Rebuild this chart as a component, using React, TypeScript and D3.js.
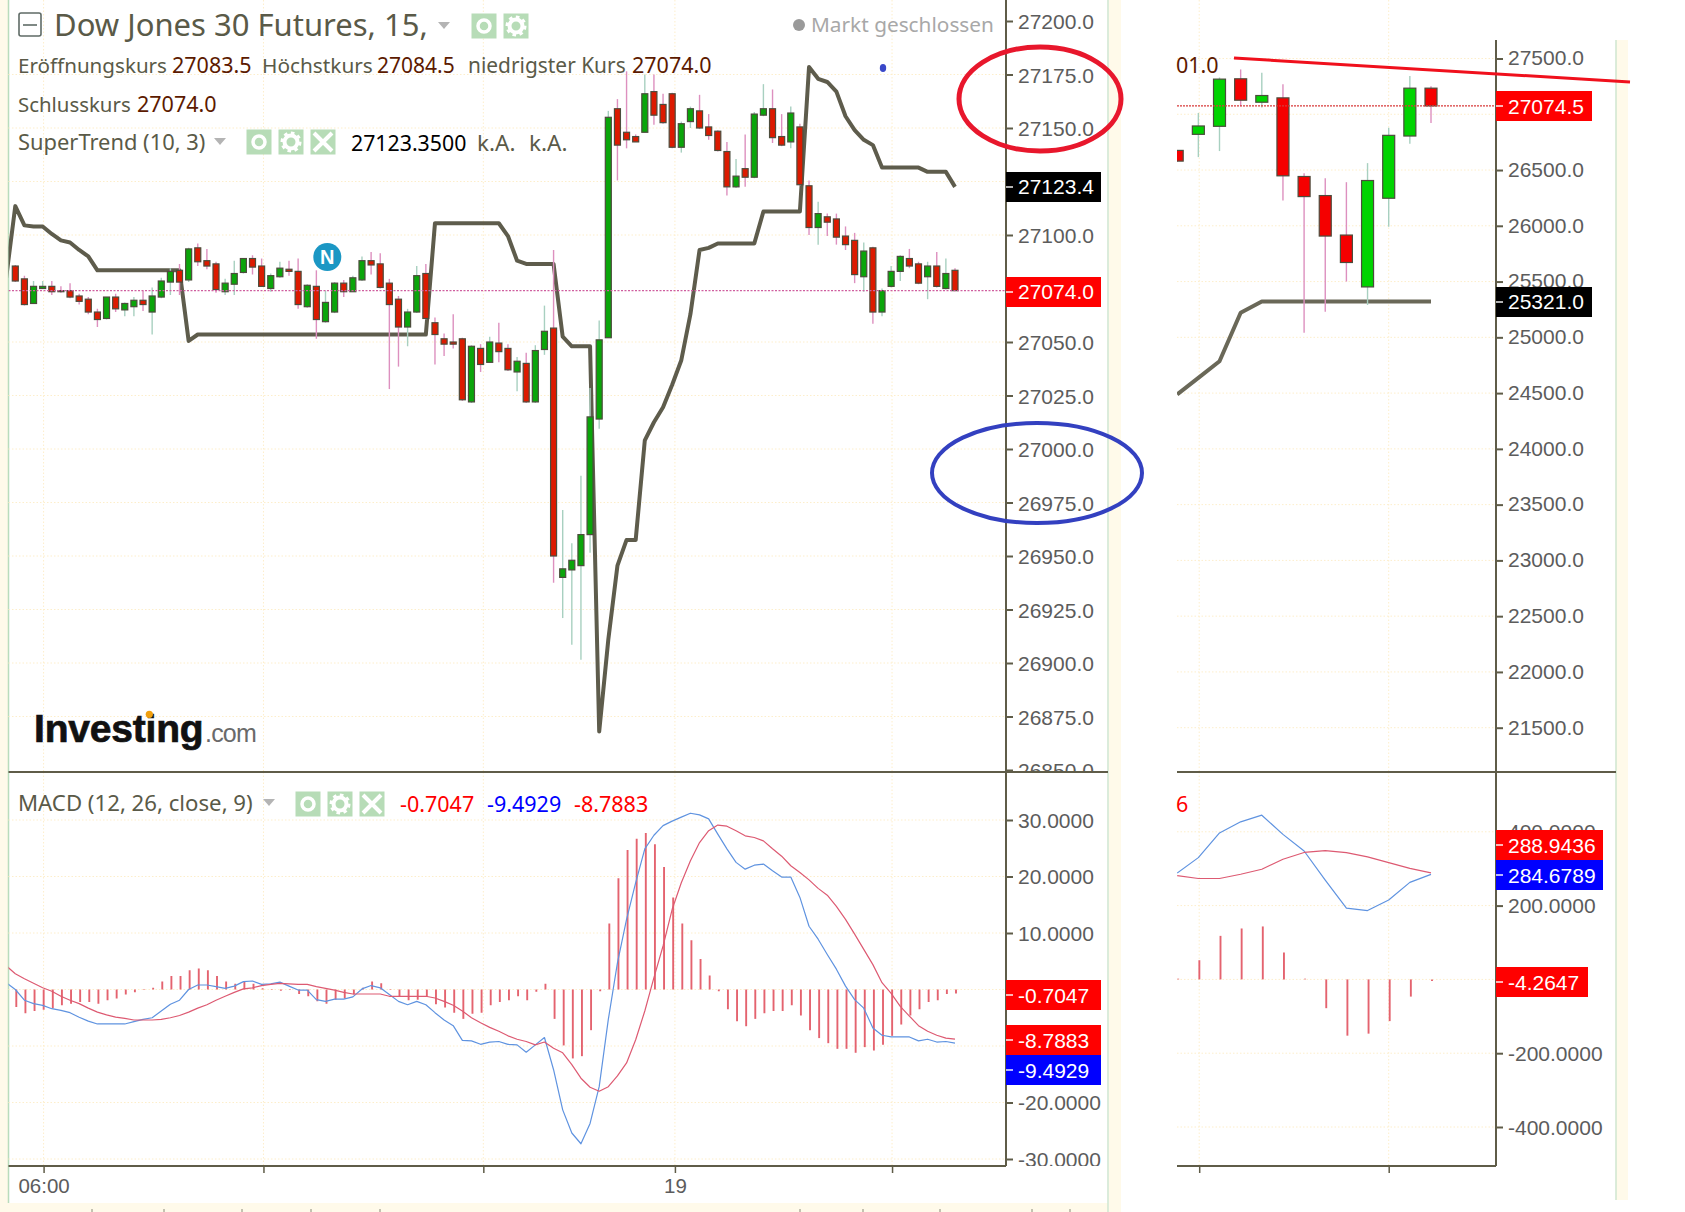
import React, { useEffect, useRef } from 'react'
import * as d3 from 'd3'

// main pane, 15 min candles
const opens = [
  27085.5, 27079.5, 27068, 27075, 27076, 27074, 27074, 27071.5, 27070, 27064,
  27061, 27071, 27065, 27066.5, 27069.5, 27064, 27071, 27078, 27083.5, 27079,
  27094, 27088, 27086.5, 27073.5, 27077, 27082.5, 27089, 27085.5, 27075, 27080.5,
  27084, 27083, 27066.5, 27076, 27059.5, 27064, 27077.5, 27073.5, 27079, 27088,
  27086.5, 27077.5, 27070, 27057, 27064, 27082, 27059, 27051.5, 27050, 27051.5,
  27022, 27047, 27040.5, 27049.5, 27047, 27036, 27040, 27022, 27046.5, 27056.5,
  26940, 26943.5, 26945.5, 26960, 27014, 27052, 27159, 27148, 27146, 27148,
  27167, 27161, 27166, 27141, 27153, 27158, 27150.5, 27148.5, 27139, 27122.5,
  27131, 27127, 27156, 27159, 27146, 27143.5, 27150.5, 27123, 27103.5, 27108.5,
  27107.5, 27099.5, 27097.5, 27080.5, 27094, 27064, 27076, 27083, 27089, 27086.5,
  27080.5, 27085.5, 27075, 27083.5,
]
const highs = [
  27086, 27081, 27078.5, 27078.5, 27078.5, 27076, 27077.5, 27072.5, 27071, 27065.5,
  27071, 27072.5, 27068.5, 27071, 27074, 27075.5, 27080, 27084.5, 27086.5, 27094,
  27096, 27093.5, 27087.5, 27079.5, 27088, 27089, 27090.5, 27089, 27082, 27087.5,
  27088, 27089, 27077, 27083.5, 27074, 27078, 27079, 27081, 27090, 27092,
  27091.5, 27079.5, 27071.5, 27065.5, 27085.5, 27086.5, 27061.5, 27054, 27063, 27052,
  27048.5, 27049, 27052.5, 27059, 27049, 27043, 27045, 27048.5, 27067, 27093,
  26971.5, 26956, 26987.5, 27028.5, 27060, 27158, 27163.5, 27176.5, 27147, 27175,
  27175, 27166, 27166.5, 27153, 27160, 27165.5, 27156.5, 27149, 27143.5, 27135.5,
  27147, 27157.5, 27170.5, 27168, 27156.5, 27160, 27152, 27125.5, 27115.5, 27110,
  27110, 27104, 27101, 27096.5, 27094.5, 27075, 27085.5, 27090.5, 27093.5, 27087.5,
  27087.5, 27092, 27089, 27084.5,
]
const lows = [
  27078, 27067, 27068, 27075, 27072, 27073, 27070.5, 27067.5, 27063, 27057,
  27060.5, 27064, 27062, 27062, 27064.5, 27053.5, 27070.5, 27072, 27072, 27078,
  27085.5, 27084, 27073, 27072, 27072, 27082, 27081.5, 27076, 27073.5, 27080,
  27081, 27065.5, 27066, 27051.5, 27059, 27063.5, 27071, 27073.5, 27078.5, 27081.5,
  27075, 27028, 27038.5, 27048, 27063.5, 27060.5, 27039.5, 27043.5, 27047, 27022.5,
  27021.5, 27036, 27040.5, 27040.5, 27036.5, 27027, 27021.5, 27021.5, 27044, 26937.5,
  26921, 26908.5, 26901.5, 26951.5, 27009.5, 27052, 27125.5, 27140.5, 27143.5, 27148,
  27151.5, 27152, 27140.5, 27138.5, 27150, 27149.5, 27144.5, 27139, 27118.5, 27122,
  27122.5, 27126.5, 27155.5, 27143, 27141.5, 27140.5, 27123, 27100, 27095.5, 27099.5,
  27095.5, 27093, 27077.5, 27073.5, 27058.5, 27062, 27075.5, 27078.5, 27084.5, 27077,
  27070, 27075.5, 27074.5, 27074,
]
const closes = [
  27078.5, 27067.5, 27076, 27076, 27073.5, 27073.5, 27071, 27069, 27064, 27060.5,
  27071, 27065.5, 27068, 27069.5, 27067.5, 27071.5, 27078.5, 27083, 27078, 27093.5,
  27087.5, 27085.5, 27074.5, 27077.5, 27082, 27089, 27085, 27076, 27081, 27084.5,
  27083, 27067.5, 27076.5, 27060.5, 27068.5, 27077.5, 27073.5, 27080, 27088, 27086,
  27075.5, 27067.5, 27057, 27064, 27081, 27061, 27053.5, 27049, 27049, 27023,
  27048, 27039.5, 27050, 27045.5, 27037, 27041, 27022, 27046, 27055, 26950,
  26944, 26948, 26960, 27015, 27051, 27155, 27142, 27144.5, 27143.5, 27166,
  27156, 27152.5, 27141, 27152, 27159, 27150, 27146.5, 27139.5, 27122.5, 27127.5,
  27127, 27156.5, 27159, 27145.5, 27142, 27157, 27123.5, 27103.5, 27110, 27106,
  27099, 27095.5, 27081.5, 27092.5, 27064, 27074, 27083, 27090, 27085.5, 27077.5,
  27085.5, 27076, 27082, 27074,
]
// starts one bar before the first candle
const superTrend = [
  27080, 27113.5, 27104.5, 27104, 27104, 27100.5, 27097.5, 27096.5, 27093, 27090, 27083.5,
  27083.5, 27083.5, 27083.5, 27083.5, 27083.5, 27083.5, 27083.5, 27083.5, 27083.5, 27050.5,
  27053.5, 27053.5, 27053.5, 27053.5, 27053.5, 27053.5, 27053.5, 27053.5, 27053.5, 27053.5,
  27053.5, 27053.5, 27053.5, 27053.5, 27053.5, 27053.5, 27053.5, 27053.5, 27053.5, 27053.5,
  27053.5, 27053.5, 27053.5, 27053.5, 27053.5, 27053.5, 27105.5, 27105.5, 27105.5, 27105.5,
  27105.5, 27105.5, 27105.5, 27105.5, 27099.5, 27088, 27086.5, 27086.5, 27086.5, 27086.5,
  27052.5, 27048, 27048, 27048, 26868, 26911, 26945.5, 26957.5, 26957.5, 27004,
  27012.5, 27019.5, 27030, 27041.5, 27063, 27093, 27094, 27096, 27096, 27096,
  27096, 27096, 27111, 27111, 27111, 27111, 27111, 27178.5, 27173, 27171.5,
  27167, 27155.5, 27149, 27144.5, 27142, 27131.5, 27131.5, 27131.5, 27131.5, 27131.5,
  27129.5, 27129.5, 27129.5, 27122.5,
]
const priceTicks = [27200, 27175, 27150, 27100, 27050, 27025, 27000, 26975, 26950, 26925, 26900, 26875, 26850]
const priceGrid = [27175, 27150, 27125, 27100, 27050, 27025, 27000, 26975, 26950, 26925, 26900, 26875]

// main MACD pane
const macdHist = [
  -3.1, -4.2, -3.8, -3.6, -3.3, -2.8, -2.5, -2.2, -2.2, -2.5,
  -1.9, -1.6, -0.9, -0.5, 0.1, 0.3, 1.4, 2.4, 2.4, 3.4,
  3.7, 3.4, 2.4, 1.4, 1, 1.4, 1, 0.2, -0.1, -0.2,
  -0.1, -0.8, -1.2, -2.1, -2.5, -1.8, -1.6, -0.9, 0.3, 1.4,
  1.1, 0.1, -1.2, -1.9, -1.8, -1.3, -2.6, -3.2, -4.1, -5.2,
  -4.3, -4.1, -2.8, -2.2, -1.9, -1.2, -1.9, -0.4, 1, -5.2,
  -9.9, -12.2, -11.8, -7.2, -0.3, 11.7, 19.7, 24.7, 26.7, 27.7,
  25.7, 21.7, 16.3, 11.7, 8.7, 5.4, 2.5, -0.3, -3.5, -5.6,
  -6.5, -5.2, -4.2, -3.8, -3.8, -2.8, -4.6, -7.2, -8.6, -9.5,
  -10.5, -10.5, -11.2, -10.2, -10.8, -9.8, -8.2, -6.2, -4.6, -3.5,
  -2.2, -1.9, -0.8, -0.7,
]
const macdLine = [
  1.2, 0, -1.9, -2.5, -2.8, -3.4, -3.7, -4.1, -4.9, -5.6,
  -6.1, -6.1, -6.1, -6.1, -5.7, -5.3, -5, -3.8, -2.6, -1.9,
  0, 0.8, 0.8, 0.5, 0.2, 0.6, 1.4, 1.5, 0.9, 1,
  1.3, 0.6, -0.1, -0.1, -1.8, -2.1, -1.7, -1.7, -1.3, 0.1,
  0.7, 0.3, -0.9, -2.1, -2.7, -2.1, -2.7, -4.1, -5.4, -6.4,
  -9, -9.1, -9.7, -9.3, -9.2, -9.7, -9.8, -11.1, -9.8, -8.5,
  -14.2, -21.3, -25.4, -27.3, -23.7, -17.2, -5.3, 4.7, 12.4, 18.9,
  24.9, 27.3, 29, 29.8, 30.5, 31.2, 30.9, 30.2, 27.5, 24.9,
  22.5, 21.3, 22, 22.2, 21, 19.9, 19.9, 16.3, 11.2, 8.9,
  6.2, 3.6, 0.6, -1.8, -3.3, -6.8, -8.1, -8.4, -8.4, -8.4,
  -9.1, -8.8, -9.3, -9.2, -9.5,
]
const signalLine = [
  4.2, 2.8, 1.9, 1.1, 0.3, -0.3, -1.2, -1.9, -2.5, -3.3,
  -4, -4.5, -4.9, -5.1, -5.4, -5.4, -5.4, -5.3, -5, -4.6,
  -4, -3.3, -2.7, -1.9, -1.2, -0.5, 0.1, 0.3, 0.7, 0.9,
  1.1, 1, 0.9, 0.9, 0.5, 0.2, -0.1, -0.5, -0.8, -0.8,
  -0.8, -0.8, -1.2, -1.2, -1.2, -1.2, -1.2, -1.5, -2.1, -2.8,
  -3.8, -5, -5.9, -6.7, -7.4, -8.2, -8.8, -9.2, -9.8, -9.3,
  -10.4, -11.2, -13.3, -15.7, -17.3, -18, -17.2, -15.3, -13, -8.9,
  -3.8, 2.1, 7.7, 14.2, 18.9, 22.8, 26, 28.1, 29.1, 28.9,
  28.1, 27.2, 26.9, 26.3, 24.9, 23.6, 21.9, 20.7, 19.4, 17.9,
  16.7, 14.7, 12.4, 9.8, 7.1, 4.4, 1.2, -0.7, -3, -4.7,
  -6.4, -7.4, -8.1, -8.6, -8.8,
]
const macdTicks = [30, 20, 10, -10, -20, -30]
const macdGrid = [30, 20, 10, 0, -10, -20, -30]

const timeTicks = [3.1, 27.2, 51.3, 72.3, 96.1]
const timeLabels = ['06:00', '', '', '19', '']

// right chart, second instrument snapshot, first bar is cut by the left edge
const rOpens = [26676, 26820, 26892, 27318, 27108, 27147, 26442, 26271, 25917, 25452, 26247, 26805, 27234]
const rHighs = [26680, 27012, 27330, 27402, 27372, 27270, 26472, 26427, 26391, 26562, 26880, 27342, 27252]
const rLows = [26575, 26616, 26670, 27072, 27060, 26226, 25041, 25230, 25500, 25290, 25992, 26736, 26922]
const rCloses = [26580, 26895, 27315, 27126, 27168, 26448, 26262, 25908, 25671, 26406, 26811, 27234, 27075]
const rSuperTrend = [24488, 24636, 24786, 25221, 25321, 25321, 25321, 25321, 25321, 25321, 25321, 25321, 25321]
const rPriceTicks = [27500, 26500, 26000, 25500, 25000, 24500, 24000, 23500, 23000, 22500, 22000, 21500]
const rPriceGrid = [27500, 27000, 26500, 26000, 25500, 25000, 24500, 24000, 23500, 23000, 22500, 22000, 21500]
const rHist = [2, 52, 118, 138, 143.5, 72.6, 2, -78, -152.5, -147, -113, -46.6, -4.2647]
const rMacd = [288, 330, 397, 427, 445, 393, 348, 269, 193, 186.5, 215, 263, 284.7]
const rSignal = [281, 273.5, 273.5, 285, 298.5, 325.5, 344, 349, 343.5, 332, 316.6, 301, 288.9]
const rMacdTicks = [400, 200, -200, -400]
const rMacdGrid = [400, 200, 0, -200, -400]
const rTimeTicks = [1.04, 10]
// stray tick stubs along the bottom edge of the screenshot
const edgeTicks = [92, 164, 242, 311, 380, 800, 863, 940, 1032, 1070]

const AXIS_FONT = '"Liberation Sans", Arial, sans-serif'
const HEAD_FONT = '"Noto Sans", sans-serif'
const AXIS_COLOR = '#5f5c48'
const TEXT_COLOR = '#5a5a48'
const VALUE_COLOR = '#5c1a00'

type G = d3.Selection<SVGGElement, unknown, null, undefined>

const drawCandles = (
  g: G,
  x: d3.ScaleLinear<number, number>,
  y: d3.ScaleLinear<number, number>,
  o: number[],
  h: number[],
  l: number[],
  c: number[],
  bodyWidth: number,
  up: string,
  down: string,
  wickUp: string,
  wickDown: string,
  border: string,
) => {
  const data = o.map((_, i) => i)
  g.append('g')
    .selectAll('line')
    .data(data)
    .enter()
    .append('line')
    .attr('x1', (i) => x(i))
    .attr('x2', (i) => x(i))
    .attr('y1', (i) => y(h[i]))
    .attr('y2', (i) => y(l[i]))
    .attr('stroke', (i) => (c[i] >= o[i] ? wickUp : wickDown))
    .attr('stroke-width', 1.4)
  g.append('g')
    .selectAll('rect')
    .data(data)
    .enter()
    .append('rect')
    .attr('x', (i) => x(i) - bodyWidth / 2)
    .attr('width', bodyWidth)
    .attr('y', (i) => y(Math.max(o[i], c[i])))
    .attr('height', (i) => Math.max(1, Math.abs(y(o[i]) - y(c[i]))))
    .attr('fill', (i) => (c[i] >= o[i] ? up : down))
    .attr('stroke', border)
    .attr('stroke-width', 1.2)
}

const drawLine = (
  g: G,
  x: (i: number) => number,
  y: d3.ScaleLinear<number, number>,
  values: number[],
  color: string,
  width: number,
) => {
  const line = d3
    .line<number>()
    .x((_, i) => x(i))
    .y((d) => y(d))
  g.append('path')
    .attr('d', line(values))
    .attr('fill', 'none')
    .attr('stroke', color)
    .attr('stroke-width', width)
    .attr('stroke-linejoin', 'round')
}

const drawGrid = (g: G, x1: number, x2: number, y1: number, y2: number, ys: number[], xs: number[]) => {
  const color = '#fdeecb'
  ys.forEach((v) => {
    g.append('line')
      .attr('x1', x1)
      .attr('x2', x2)
      .attr('y1', v)
      .attr('y2', v)
      .attr('stroke', color)
      .attr('stroke-width', 1)
      .attr('stroke-dasharray', '1.5 2')
  })
  xs.forEach((v) => {
    g.append('line')
      .attr('x1', v)
      .attr('x2', v)
      .attr('y1', y1)
      .attr('y2', y2)
      .attr('stroke', color)
      .attr('stroke-width', 1)
      .attr('stroke-dasharray', '1.5 2')
  })
}

const drawAxis = (
  g: G,
  y: d3.ScaleLinear<number, number>,
  ticks: number[],
  left: number,
  digits: number,
  dy = '0.38em',
) => {
  const axis = d3
    .axisRight(y)
    .tickValues(ticks)
    .tickSize(7)
    .tickPadding(5)
    .tickFormat((d) => (d as number).toFixed(digits))
  const a = g.append('g').attr('transform', `translate(${left},0)`).call(axis)
  a.select('.domain').remove()
  a.selectAll('line').attr('stroke', AXIS_COLOR).attr('stroke-width', 2)
  a.selectAll('text')
    .attr('fill', '#5c5c5c')
    .attr('dy', dy)
    .style('font-family', AXIS_FONT)
    .style('font-size', '21px')
}

const priceTag = (
  g: G,
  left: number,
  width: number,
  top: number,
  text: string,
  fill: string,
  textLift = 0,
) => {
  g.append('rect')
    .attr('x', left)
    .attr('y', top)
    .attr('width', width)
    .attr('height', 30)
    .attr('fill', fill)
  g.append('line')
    .attr('x1', left)
    .attr('x2', left + 7)
    .attr('y1', top + 15)
    .attr('y2', top + 15)
    .attr('stroke', '#ffffff')
    .attr('stroke-opacity', 0.7)
    .attr('stroke-width', 2)
  g.append('text')
    .attr('x', left + 12)
    .attr('y', top + 22.5 - textLift)
    .attr('fill', '#ffffff')
    .style('font-family', AXIS_FONT)
    .style('font-size', '21px')
    .text(text)
}

const label = (
  g: G,
  x: number,
  y: number,
  text: string,
  color: string,
  size = 21.5,
  family = HEAD_FONT,
) =>
  g
    .append('text')
    .attr('x', x)
    .attr('y', y)
    .attr('fill', color)
    .style('font-family', family)
    .style('font-size', `${size}px`)
    .text(text)

const icon = (g: G, cx: number, cy: number, kind: string, size = 25) => {
  const s = g.append('g').attr('transform', `translate(${cx},${cy})`)
  s.append('rect')
    .attr('x', -size / 2)
    .attr('y', -size / 2)
    .attr('width', size)
    .attr('height', size)
    .attr('fill', '#b7dcb7')
  if (kind === 'eye') {
    s.append('circle').attr('r', 6).attr('fill', 'none').attr('stroke', '#fff').attr('stroke-width', 3.5)
  } else if (kind === 'gear') {
    s.append('circle').attr('r', 6.5).attr('fill', 'none').attr('stroke', '#fff').attr('stroke-width', 4)
    s.append('circle')
      .attr('r', 9)
      .attr('fill', 'none')
      .attr('stroke', '#fff')
      .attr('stroke-width', 3)
      .attr('stroke-dasharray', '3.5 3.5')
  } else {
    s.append('path')
      .attr('d', 'M-9,-9L9,9M9,-9L-9,9')
      .attr('stroke', '#fff')
      .attr('stroke-width', 4)
  }
}

const arrow = (g: G, cx: number, cy: number) => {
  g.append('path')
    .attr('d', `M${cx - 6},${cy - 3}L${cx + 6},${cy - 3}L${cx},${cy + 4}Z`)
    .attr('fill', '#b4b4b4')
}

const App = () => {
  const svgRef = useRef<SVGSVGElement>(null)

  useEffect(() => {
    const svg = d3.select(svgRef.current)
    svg.selectAll('*').remove()
    const root = svg.append('g') as unknown as G

    // pane geometry
    const L = 8.5
    const AX = 1006
    const SEP = 772
    const BOT = 1166
    const EDGE = 1108
    const RL = 1177
    const RAX = 1496
    const REDGE = 1616

    const defs = svg.append('defs')
    const clip = (id: string, x: number, y: number, w: number, h: number) =>
      defs.append('clipPath').attr('id', id).append('rect').attr('x', x).attr('y', y).attr('width', w).attr('height', h)
    clip('main-top', L, 0, AX - L, SEP)
    clip('main-bot', L, SEP, AX - L, BOT - SEP)
    clip('main-top-ax', AX, 0, EDGE - AX, SEP)
    clip('main-bot-ax', AX, SEP, EDGE - AX, BOT - SEP)
    clip('r-top', RL, 0, RAX - RL, SEP)
    clip('r-bot', RL, SEP, RAX - RL, BOT - SEP)

    // scanned page edge strips
    const strip = '#fffaea'
    root.append('rect').attr('x', 0).attr('y', 0).attr('width', L).attr('height', 1212).attr('fill', strip)
    root.append('rect').attr('x', EDGE + 1).attr('y', 0).attr('width', 12).attr('height', 1212).attr('fill', strip)
    root.append('rect').attr('x', 0).attr('y', 1203).attr('width', EDGE).attr('height', 9).attr('fill', strip)
    root.append('rect').attr('x', REDGE).attr('y', 40).attr('width', 12).attr('height', 1160).attr('fill', strip)
    root.append('line').attr('x1', L).attr('x2', L).attr('y1', 0).attr('y2', 1203).attr('stroke', '#b9dcbc').attr('stroke-width', 1.5)
    root.append('line').attr('x1', EDGE).attr('x2', EDGE).attr('y1', 0).attr('y2', 1212).attr('stroke', '#cfe6cf').attr('stroke-width', 1.5)
    root.append('line').attr('x1', REDGE).attr('x2', REDGE).attr('y1', 40).attr('y2', 1200).attr('stroke', '#cfe6cf').attr('stroke-width', 1.5)
    edgeTicks.forEach((d) => {
      root.append('line').attr('x1', d).attr('x2', d).attr('y1', 1209).attr('y2', 1212).attr('stroke', '#8a8a78').attr('stroke-width', 1)
    })

    // scales
    const x = d3.scaleLinear().domain([0, 103]).range([15.3, 955])
    const y = d3.scaleLinear().domain([27100, 26875]).range([235, 716.5])
    const yM = d3.scaleLinear().domain([30, -30]).range([820, 1159])
    const rx = d3.scaleLinear().domain([0, 12]).range([1177.2, 1431])
    const ry = d3.scaleLinear().domain([27500, 21500]).range([58.5, 727.7])
    const ryM = d3.scaleLinear().domain([400, -400]).range([831.8, 1127])

    // grid
    const gridMain = root.append('g')
    drawGrid(gridMain, L, AX, 0, SEP, priceGrid.map((d) => y(d)), timeTicks.map((d) => x(d)))
    drawGrid(gridMain, L, AX, SEP, BOT, macdGrid.map((d) => yM(d)), timeTicks.map((d) => x(d)))
    drawGrid(gridMain, RL, RAX, 0, SEP, rPriceGrid.map((d) => ry(d)), rTimeTicks.map((d) => rx(d)))
    drawGrid(gridMain, RL, RAX, SEP, BOT, rMacdGrid.map((d) => ryM(d)), rTimeTicks.map((d) => rx(d)))

    // main price pane
    const top = root.append('g').attr('clip-path', 'url(#main-top)') as unknown as G
    drawLine(top, (i) => x(i - 1), y, superTrend, '#5e5c4c', 4)
    drawCandles(top, x, y, opens, highs, lows, closes, 6, '#0aa50a', '#dc1a00', '#a8d0c0', '#dd90bf', '#4c4c3c')
    top.append('line')
      .attr('x1', L)
      .attr('x2', AX)
      .attr('y1', y(27074))
      .attr('y2', y(27074))
      .attr('stroke', '#cf5f9f')
      .attr('stroke-width', 1.4)
      .attr('stroke-dasharray', '2 1.5')

    // main MACD pane
    const bot = root.append('g').attr('clip-path', 'url(#main-bot)') as unknown as G
    bot.append('g')
      .selectAll('line')
      .data(macdHist)
      .enter()
      .append('line')
      .attr('x1', (_, i) => x(i) + 1)
      .attr('x2', (_, i) => x(i) + 1)
      .attr('y1', yM(0))
      .attr('y2', (d) => yM(d))
      .attr('stroke', '#e4636f')
      .attr('stroke-width', 1.9)
    drawLine(bot, (i) => x(i - 1), yM, macdLine, '#5f93e0', 1.2)
    drawLine(bot, (i) => x(i - 1), yM, signalLine, '#dd5a72', 1.2)

    // right price pane
    const rTop = root.append('g').attr('clip-path', 'url(#r-top)') as unknown as G
    drawLine(rTop, (i) => rx(i), ry, rSuperTrend, '#6a6858', 4)
    drawCandles(rTop, rx, ry, rOpens, rHighs, rLows, rCloses, 12, '#00d400', '#f50000', '#a8d0c0', '#dd90bf', '#4c4c3c')
    rTop.append('line')
      .attr('x1', RL)
      .attr('x2', RAX)
      .attr('y1', ry(27074.5))
      .attr('y2', ry(27074.5))
      .attr('stroke', '#d83a3a')
      .attr('stroke-width', 1.2)
      .attr('stroke-dasharray', '2 1')

    // right MACD pane
    const rBot = root.append('g').attr('clip-path', 'url(#r-bot)') as unknown as G
    rBot.append('g')
      .selectAll('line')
      .data(rHist)
      .enter()
      .append('line')
      .attr('x1', (_, i) => rx(i) + 1)
      .attr('x2', (_, i) => rx(i) + 1)
      .attr('y1', ryM(0))
      .attr('y2', (d) => ryM(d))
      .attr('stroke', '#e4636f')
      .attr('stroke-width', 1.9)
    drawLine(rBot, (i) => rx(i), ryM, rMacd, '#5f93e0', 1.2)
    drawLine(rBot, (i) => rx(i), ryM, rSignal, '#dd5a72', 1.2)

    // axes
    const axTop = root.append('g').attr('clip-path', 'url(#main-top-ax)') as unknown as G
    drawAxis(axTop, y, priceTicks, AX, 1)
    const axBot = root.append('g').attr('clip-path', 'url(#main-bot-ax)') as unknown as G
    drawAxis(axBot, yM, macdTicks, AX, 4, '0.34em')
    drawAxis(root, ry, rPriceTicks, RAX, 1, '0.3em')
    drawAxis(root, ryM, rMacdTicks, RAX, 4, '0.34em')

    const xAxis = d3
      .axisBottom(x)
      .tickValues(timeTicks)
      .tickSize(7)
      .tickFormat((_, i) => timeLabels[i])
    const xg = root.append('g').attr('transform', `translate(0,${BOT})`).call(xAxis)
    xg.select('.domain').remove()
    xg.selectAll('line').attr('stroke', AXIS_COLOR).attr('stroke-width', 1.5)
    xg.selectAll('text')
      .attr('fill', '#5c5c5c')
      .attr('dy', '0.85em')
      .style('font-family', AXIS_FONT)
      .style('font-size', '20.5px')
    const rxAxis = d3
      .axisBottom(rx)
      .tickValues(rTimeTicks)
      .tickSize(7)
      .tickFormat(() => '')
    const rxg = root.append('g').attr('transform', `translate(0,${BOT})`).call(rxAxis)
    rxg.select('.domain').remove()
    rxg.selectAll('line').attr('stroke', AXIS_COLOR).attr('stroke-width', 1.5)

    // frame
    const frame = (x1: number, y1: number, x2: number, y2: number) =>
      root.append('line').attr('x1', x1).attr('y1', y1).attr('x2', x2).attr('y2', y2).attr('stroke', AXIS_COLOR).attr('stroke-width', 2)
    frame(AX, 0, AX, BOT)
    frame(L, SEP, EDGE, SEP)
    frame(L, BOT, AX, BOT)
    frame(RAX, 40, RAX, BOT)
    frame(RL, SEP, REDGE, SEP)
    frame(RL, BOT, RAX, BOT)

    // price tags
    priceTag(root, AX, 95, 172, '27123.4', '#000000', 1)
    priceTag(root, AX, 95, 277, '27074.0', '#ff0000', 1)
    priceTag(root, AX, 95, 980, '-0.7047', '#ff0000')
    priceTag(root, AX, 95, 1025, '-8.7883', '#ff0000')
    priceTag(root, AX, 95, 1055, '-9.4929', '#0000ff')
    priceTag(root, RAX, 96, 91, '27074.5', '#ff0000')
    priceTag(root, RAX, 96, 287, '25321.0', '#000000', 1)
    priceTag(root, RAX, 107, 830, '288.9436', '#ff0000')
    priceTag(root, RAX, 107, 860, '284.6789', '#0000ff')
    priceTag(root, RAX, 92, 967, '-4.2647', '#ff0000')

    // header
    root.append('rect').attr('x', 19).attr('y', 13).attr('width', 22).attr('height', 23).attr('rx', 2).attr('fill', 'none').attr('stroke', '#5f6b66').attr('stroke-width', 1.6)
    root.append('line').attr('x1', 23).attr('x2', 37).attr('y1', 25).attr('y2', 25).attr('stroke', '#5f6b66').attr('stroke-width', 1.6)
    label(root, 54, 36, 'Dow Jones 30 Futures, 15,', TEXT_COLOR, 31)
    arrow(root, 444, 25)
    icon(root, 484, 26, 'eye')
    icon(root, 516, 26, 'gear')
    root.append('circle').attr('cx', 799).attr('cy', 25).attr('r', 6).attr('fill', '#9a9a9a')
    label(root, 811, 32, 'Markt geschlossen', '#a8a8a8', 20.8)

    label(root, 18, 73, 'Eröffnungskurs', TEXT_COLOR, 20.6)
    label(root, 172, 73, '27083.5', VALUE_COLOR)
    label(root, 262, 73, 'Höchstkurs', TEXT_COLOR, 20.8)
    label(root, 377, 73, '27084.5', VALUE_COLOR, 21)
    label(root, 468, 73, 'niedrigster Kurs', TEXT_COLOR, 20.9)
    label(root, 632, 73, '27074.0', VALUE_COLOR)
    label(root, 18, 112, 'Schlusskurs', TEXT_COLOR, 20.4)
    label(root, 137, 112, '27074.0', VALUE_COLOR)
    label(root, 18, 150, 'SuperTrend (10, 3)', TEXT_COLOR, 21.9)
    arrow(root, 220, 141)
    icon(root, 259, 142, 'eye')
    icon(root, 291, 142, 'gear')
    icon(root, 323, 142, 'x')
    label(root, 351, 151, '27123.3500', '#000000', 21.3)
    label(root, 477, 151, 'k.A.', TEXT_COLOR, 22.5)
    label(root, 529, 151, 'k.A.', TEXT_COLOR, 22.5)
    label(root, 1176, 73, '01.0', VALUE_COLOR)

    label(root, 18, 811, 'MACD (12, 26, close, 9)', TEXT_COLOR, 22.2)
    arrow(root, 269, 802)
    icon(root, 308, 804, 'eye')
    icon(root, 340, 804, 'gear')
    icon(root, 372, 804, 'x')
    label(root, 400, 812, '-0.7047', '#ff0000')
    label(root, 487, 812, '-9.4929', '#0000ff')
    label(root, 574, 812, '-8.7883', '#ff0000')
    label(root, 1176, 812, '6', '#ff0000')

    // news badge and the stray dot
    root.append('circle').attr('cx', 327.3).attr('cy', 257).attr('r', 14).attr('fill', '#1b97c4')
    label(root, 327.3, 264, 'N', '#ffffff', 20, AXIS_FONT).attr('text-anchor', 'middle').style('font-weight', 'bold')
    root.append('ellipse').attr('cx', 883).attr('cy', 68).attr('rx', 3.2).attr('ry', 4).attr('fill', '#3a48c8')

    // logo
    label(root, 34, 742, 'Investing', '#111111', 39, AXIS_FONT)
      .style('font-weight', 'bold')
      .style('letter-spacing', '-0.2px')
      .attr('stroke', '#111111')
      .attr('stroke-width', 0.7)
    label(root, 205, 742, '.com', '#6a6a6a', 25, AXIS_FONT).style('letter-spacing', '-0.8px')
    root.append('circle').attr('cx', 149.3).attr('cy', 714.3).attr('r', 3.6).attr('fill', '#f0a010')

    // hand drawn marks on top of the screenshot
    root.append('ellipse').attr('cx', 1040).attr('cy', 99).attr('rx', 81).attr('ry', 52).attr('fill', 'none').attr('stroke', '#e8172c').attr('stroke-width', 5)
    root.append('ellipse').attr('cx', 1037).attr('cy', 473).attr('rx', 105).attr('ry', 50).attr('fill', 'none').attr('stroke', '#3340c0').attr('stroke-width', 4)
    root.append('line').attr('x1', 1234).attr('y1', 58).attr('x2', 1630).attr('y2', 82).attr('stroke', '#f0101c').attr('stroke-width', 3)
  }, [])

  return (
    <svg
      ref={svgRef}
      width={1685}
      height={1212}
      style={{ position: 'absolute', left: 0, top: 0, background: '#ffffff', display: 'block' }}
    />
  )
}

export default App
